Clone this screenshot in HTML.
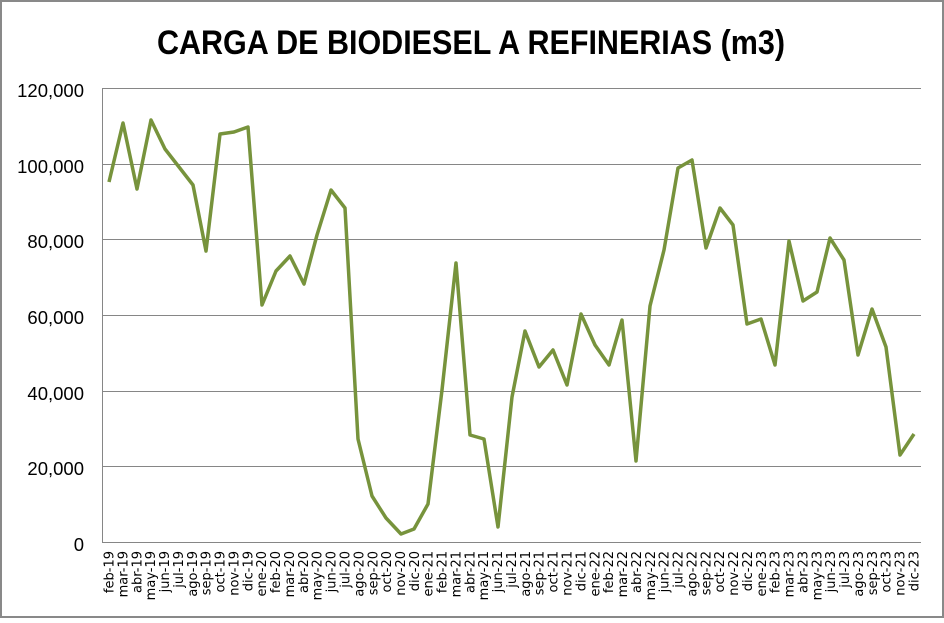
<!DOCTYPE html>
<html><head><meta charset="utf-8"><style>html,body{margin:0;padding:0;background:#fff}</style></head><body>
<svg width="944" height="618" xmlns="http://www.w3.org/2000/svg" font-family="Liberation Sans, DejaVu Sans, sans-serif">
<rect x="1" y="1" width="942" height="616" fill="#fff" stroke="#898989" stroke-width="2"/>
<text x="471" y="54" text-anchor="middle" font-size="34" font-weight="bold" textLength="628" lengthAdjust="spacingAndGlyphs">CARGA DE BIODIESEL A REFINERIAS (m3)</text>
<g stroke="#868686" stroke-width="1">
<line x1="102" y1="88.5" x2="921" y2="88.5"/>
<line x1="102" y1="164.5" x2="921" y2="164.5"/>
<line x1="102" y1="239.5" x2="921" y2="239.5"/>
<line x1="102" y1="315.5" x2="921" y2="315.5"/>
<line x1="102" y1="391.5" x2="921" y2="391.5"/>
<line x1="102" y1="466.5" x2="921" y2="466.5"/>
<line x1="102" y1="542.5" x2="921" y2="542.5"/>
<line x1="102.5" y1="88" x2="102.5" y2="542"/>
</g>
<g font-size="18.5" text-anchor="end" fill="#000">
<text x="84" y="97">120,000</text>
<text x="84" y="173">100,000</text>
<text x="84" y="248">80,000</text>
<text x="84" y="324">60,000</text>
<text x="84" y="400">40,000</text>
<text x="84" y="475">20,000</text>
<text x="84" y="551">0</text>
</g>
<polyline fill="none" stroke="#77933c" stroke-width="3.5" stroke-linejoin="round" points="109,182 123,123 137,189 151,120 165,149 179,167 193,185 206,251 220,134 234,132 248,127 262,305 276,271 290,256 304,284 317,235 331,190 345,208 358,439 372,496 386,518 401,534 414,529 428,504 442,390 456,263 470,435 484,439 498,527 512,397 525,331 539,367 553,350 567,385 581,314 595,345 609,365 622,320 636,461 650,306 664,250 678,168 692,160 706,248 720,208 733,225 747,324 761,319 775,365 789,241 803,301 817,292 830,238 844,260 858,355 872,309 886,347 900,455 914,434"/>
<g font-size="13" font-family="DejaVu Sans, sans-serif" text-anchor="end" fill="#000">
<text transform="translate(113.5,551) rotate(-90)">feb-19</text>
<text transform="translate(127.4,551) rotate(-90)">mar-19</text>
<text transform="translate(141.3,551) rotate(-90)">abr-19</text>
<text transform="translate(155.1,551) rotate(-90)">may-19</text>
<text transform="translate(169.0,551) rotate(-90)">jun-19</text>
<text transform="translate(182.9,551) rotate(-90)">jul-19</text>
<text transform="translate(196.8,551) rotate(-90)">ago-19</text>
<text transform="translate(210.7,551) rotate(-90)">sep-19</text>
<text transform="translate(224.5,551) rotate(-90)">oct-19</text>
<text transform="translate(238.4,551) rotate(-90)">nov-19</text>
<text transform="translate(252.3,551) rotate(-90)">dic-19</text>
<text transform="translate(266.2,551) rotate(-90)">ene-20</text>
<text transform="translate(280.1,551) rotate(-90)">feb-20</text>
<text transform="translate(294.0,551) rotate(-90)">mar-20</text>
<text transform="translate(307.8,551) rotate(-90)">abr-20</text>
<text transform="translate(321.7,551) rotate(-90)">may-20</text>
<text transform="translate(335.6,551) rotate(-90)">jun-20</text>
<text transform="translate(349.5,551) rotate(-90)">jul-20</text>
<text transform="translate(363.4,551) rotate(-90)">ago-20</text>
<text transform="translate(377.3,551) rotate(-90)">sep-20</text>
<text transform="translate(391.1,551) rotate(-90)">oct-20</text>
<text transform="translate(405.0,551) rotate(-90)">nov-20</text>
<text transform="translate(418.9,551) rotate(-90)">dic-20</text>
<text transform="translate(432.7,551) rotate(-90)">ene-21</text>
<text transform="translate(446.6,551) rotate(-90)">feb-21</text>
<text transform="translate(460.5,551) rotate(-90)">mar-21</text>
<text transform="translate(474.4,551) rotate(-90)">abr-21</text>
<text transform="translate(488.2,551) rotate(-90)">may-21</text>
<text transform="translate(502.1,551) rotate(-90)">jun-21</text>
<text transform="translate(516.0,551) rotate(-90)">jul-21</text>
<text transform="translate(529.9,551) rotate(-90)">ago-21</text>
<text transform="translate(543.7,551) rotate(-90)">sep-21</text>
<text transform="translate(557.6,551) rotate(-90)">oct-21</text>
<text transform="translate(571.5,551) rotate(-90)">nov-21</text>
<text transform="translate(585.4,551) rotate(-90)">dic-21</text>
<text transform="translate(599.3,551) rotate(-90)">ene-22</text>
<text transform="translate(613.1,551) rotate(-90)">feb-22</text>
<text transform="translate(627.0,551) rotate(-90)">mar-22</text>
<text transform="translate(640.9,551) rotate(-90)">abr-22</text>
<text transform="translate(654.8,551) rotate(-90)">may-22</text>
<text transform="translate(668.7,551) rotate(-90)">jun-22</text>
<text transform="translate(682.5,551) rotate(-90)">jul-22</text>
<text transform="translate(696.4,551) rotate(-90)">ago-22</text>
<text transform="translate(710.3,551) rotate(-90)">sep-22</text>
<text transform="translate(724.2,551) rotate(-90)">oct-22</text>
<text transform="translate(738.0,551) rotate(-90)">nov-22</text>
<text transform="translate(751.9,551) rotate(-90)">dic-22</text>
<text transform="translate(765.8,551) rotate(-90)">ene-23</text>
<text transform="translate(779.7,551) rotate(-90)">feb-23</text>
<text transform="translate(793.5,551) rotate(-90)">mar-23</text>
<text transform="translate(807.4,551) rotate(-90)">abr-23</text>
<text transform="translate(821.3,551) rotate(-90)">may-23</text>
<text transform="translate(835.2,551) rotate(-90)">jun-23</text>
<text transform="translate(849.1,551) rotate(-90)">jul-23</text>
<text transform="translate(862.9,551) rotate(-90)">ago-23</text>
<text transform="translate(876.8,551) rotate(-90)">sep-23</text>
<text transform="translate(890.7,551) rotate(-90)">oct-23</text>
<text transform="translate(904.6,551) rotate(-90)">nov-23</text>
<text transform="translate(918.4,551) rotate(-90)">dic-23</text>
</g>
</svg>
</body></html>
